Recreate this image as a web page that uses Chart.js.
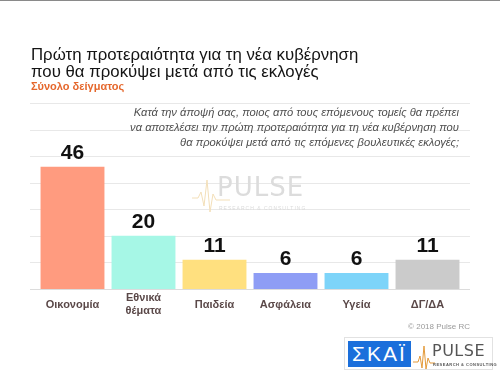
<!DOCTYPE html>
<html>
<head>
<meta charset="utf-8">
<script src="https://cdn.jsdelivr.net/npm/chart.js@4"></script>
<style>
  html, body { margin: 0; padding: 0; background: #fff; }
  #wrap { position: relative; width: 500px; height: 375px; overflow: hidden; font-family: "Liberation Sans", Arial, sans-serif; }
  #c { position: absolute; left: 0; top: 0; }
  .abs { position: absolute; white-space: nowrap; }
  #topline { left: 0; top: 0; width: 500px; height: 1px; background: #8a8a8a; }
  #title { left: 31px; top: 46px; font-size: 16.8px; line-height: 17px; color: #141414; }
  #subtitle { left: 31px; top: 80px; font-size: 11px; font-weight: bold; color: #e5672c; }
  #question { right: 41px; top: 105px; font-size: 11.2px; line-height: 15px; font-style: italic; color: #4f4f4f; text-align: right; }
  #copy { right: 30px; top: 322px; font-size: 8px; color: #9a9a9a; }
  #wm { left: 190px; top: 172px; width: 130px; height: 45px; }
  #wmText { left: 27px; top: 0px; font-size: 26px; letter-spacing: 1px; color: #dcdcdc; font-family: "DejaVu Sans", sans-serif; }
  #wmSub { left: 29px; top: 33px; font-size: 5px; letter-spacing: 1px; color: #dadada; }
  #logo { left: 344px; top: 337px; width: 149px; height: 33px; border: 1px solid #e2e2e2; background: #fff; box-sizing: border-box; }
  #skai { left: 3px; top: 3px; width: 63px; height: 26px; background: #1b6fdb; color: #fff; font-size: 21px; line-height: 26px; text-align: center; letter-spacing: 2px; }
  #lpulse { left: 87px; top: 3px; font-size: 16px; letter-spacing: 0.5px; color: #555; font-family: "DejaVu Sans", sans-serif; }
  #lsub { left: 88px; top: 24px; font-size: 4px; letter-spacing: 0.5px; color: #555; font-weight: bold; }
</style>
</head>
<body>
<div id="wrap">
  <canvas id="c" width="500" height="375"></canvas>
  <div id="topline" class="abs"></div>
  <div id="title" class="abs">Πρώτη προτεραιότητα για τη νέα κυβέρνηση<br>που θα προκύψει μετά από τις εκλογές</div>
  <div id="subtitle" class="abs">Σύνολο δείγματος</div>
  <div id="question" class="abs">Κατά την άποψή σας, ποιος από τους επόμενους τομείς θα πρέπει<br>να αποτελέσει την πρώτη προτεραιότητα για τη νέα κυβέρνηση που<br>θα προκύψει μετά από τις επόμενες βουλευτικές εκλογές;</div>
  <div id="wm" class="abs">
    <svg class="abs" style="left:0;top:0" width="40" height="45"><polyline points="2,26 8,26 11,20 14,34 17,8 20,40 23,22 26,28 40,28" fill="none" stroke="#f3dfb8" stroke-width="1"/></svg>
    <div id="wmText" class="abs">PULSE</div>
    <div id="wmSub" class="abs">RESEARCH &amp; CONSULTING</div>
  </div>
  <div id="copy" class="abs">© 2018 Pulse RC</div>
  <div id="logo" class="abs">
    <div id="skai" class="abs">ΣΚΑΪ</div>
    <svg class="abs" style="left:68px;top:4px" width="22" height="28"><polyline points="0,20 5,20 7,14 9,26 11,4 13,27 15,16 17,21 22,21" fill="none" stroke="#e39a3a" stroke-width="1"/></svg>
    <div id="lpulse" class="abs">PULSE</div>
    <div id="lsub" class="abs">RESEARCH &amp; CONSULTING</div>
  </div>
</div>
<script>
const categories = ["Οικονομία", ["Εθνικά", "θέματα"], "Παιδεία", "Ασφάλεια", "Υγεία", "ΔΓ/ΔΑ"];
const values = [46, 20, 11, 6, 6, 11];
const barColors = ["#FF9B7F", "#A6F7E6", "#FFE07F", "#8E9DF5", "#7DD4F9", "#CBCBCB"];
const yTicks = [0, 10, 20, 30, 40, 50, 60, 70];

const gridPlugin = {
  id: "wideGrid",
  beforeDatasetsDraw(chart) {
    const ctx = chart.ctx, y = chart.scales.y;
    ctx.save();
    ctx.lineWidth = 1;
    yTicks.forEach(v => {
      const py = Math.round(y.getPixelForValue(v)) + 0.5;
      ctx.strokeStyle = v === 0 ? "#dcdcdc" : "#e8e8e8";
      ctx.beginPath();
      ctx.moveTo(30, py);
      ctx.lineTo(470, py);
      ctx.stroke();
    });
    ctx.restore();
  }
};

const labelPlugin = {
  id: "valueLabels",
  afterDatasetsDraw(chart) {
    const ctx = chart.ctx;
    const meta = chart.getDatasetMeta(0);
    ctx.save();
    ctx.font = "bold 21px 'Liberation Sans', Arial, sans-serif";
    ctx.fillStyle = "#111";
    ctx.textAlign = "center";
    ctx.textBaseline = "middle";
    meta.data.forEach((bar, i) => {
      ctx.fillText(String(values[i]), bar.x, bar.y - 14);
    });
    ctx.restore();
  }
};

new Chart(document.getElementById("c"), {
  type: "bar",
  data: {
    labels: categories,
    datasets: [{
      data: values,
      backgroundColor: barColors,
      borderWidth: 0,
      barPercentage: 0.9,
      categoryPercentage: 1.0
    }]
  },
  options: {
    responsive: false,
    animation: false,
    layout: { padding: { left: 37, right: 37, top: 103, bottom: 46 } },
    plugins: { legend: { display: false }, tooltip: { enabled: false }, title: { display: false } },
    scales: {
      x: {
        grid: { display: false, drawTicks: false },
        border: { display: false },
        ticks: {
          padding: 9,
          crossAlign: "center",
          color: "#5a4848",
          font: { family: "'Liberation Sans', Arial, sans-serif", size: 11, weight: "bold" }
        },
        afterFit(s) { s.height = 40; }
      },
      y: {
        display: false,
        min: 0,
        max: 70,
        ticks: { stepSize: 10 }
      }
    }
  },
  plugins: [gridPlugin, labelPlugin]
});
</script>
</body>
</html>
